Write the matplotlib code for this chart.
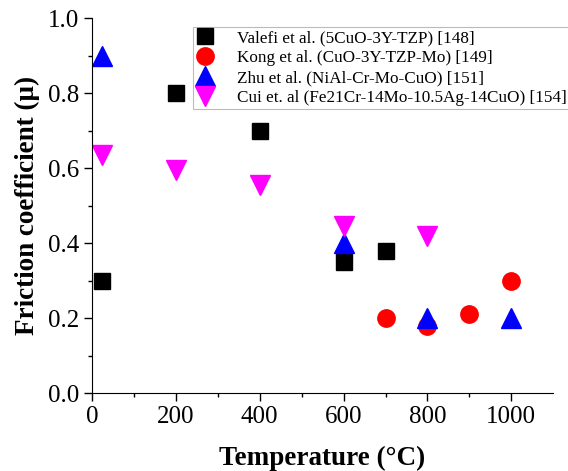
import matplotlib.pyplot as plt

plt.rcParams["font.family"] = ["Liberation Serif", "DejaVu Serif"]
plt.rcParams["mathtext.fontset"] = "stix"

# Friction coefficient vs temperature
valefi_t = [25, 200, 400, 600, 700]
valefi_mu = [0.30, 0.80, 0.70, 0.35, 0.38]

kong_t = [700, 800, 900, 1000]
kong_mu = [0.20, 0.18, 0.21, 0.30]

zhu_t = [25, 600, 800, 1000]
zhu_mu = [0.90, 0.40, 0.20, 0.20]

cui_t = [25, 200, 400, 600, 800]
cui_mu = [0.635, 0.595, 0.555, 0.445, 0.42]

labels = [
    "Valefi et al. (5CuO-3Y-TZP) [148]",
    "Kong et al. (CuO-3Y-TZP-Mo) [149]",
    "Zhu et al. (NiAl-Cr-Mo-CuO) [151]",
    "Cui et. al (Fe21Cr-14Mo-10.5Ag-14CuO) [154]",
]

fig = plt.figure(figsize=(5.68, 4.71), dpi=100)
ax = fig.add_axes([0.162, 0.1656, 0.812, 0.796])

ax.plot(valefi_t, valefi_mu, ls="none", marker="s", ms=11.5, color="black", label=labels[0])
ax.plot(kong_t, kong_mu, ls="none", marker="o", ms=12.5, color="#ff0000", label=labels[1])
ax.plot(zhu_t, zhu_mu, ls="none", marker="^", ms=14, color="#0000ff", label=labels[2])
ax.plot(cui_t, cui_mu, ls="none", marker="v", ms=14, color="#ff00ff", label=labels[3])

ax.set_xlim(0, 1100)
ax.set_ylim(0, 1.0)
ax.set_xticks([0, 200, 400, 600, 800, 1000])
ax.set_xticks(range(100, 1100, 200), minor=True)
ax.set_yticks([0.0, 0.2, 0.4, 0.6, 0.8, 1.0])
ax.set_yticks([0.1, 0.3, 0.5, 0.7, 0.9], minor=True)
ax.set_yticklabels([f"{v:.1f}" for v in [0.0, 0.2, 0.4, 0.6, 0.8, 1.0]])

ax.spines["top"].set_visible(False)
ax.spines["right"].set_visible(False)
ax.tick_params(which="major", direction="out", length=6, width=1, labelsize=18, pad=3)
ax.tick_params(which="minor", direction="out", length=3, width=1)

ax.set_xlabel("Temperature (°C)", fontsize=19.5, fontweight="bold", labelpad=13)
ax.set_ylabel("Friction coefficient (μ)", fontsize=19.5, fontweight="bold", labelpad=6)

leg = fig.legend(
    loc="upper left",
    bbox_to_anchor=(193 / 568, 1 - 27 / 471),
    fontsize=12.3,
    frameon=True,
    fancybox=False,
    edgecolor="#aaaaaa",
    handlelength=1.0,
    handletextpad=1.4,
    borderpad=0.2,
    labelspacing=0.22,
    borderaxespad=0,
)
leg.get_frame().set_linewidth(0.8)

fig.savefig("out.png", dpi=100)
